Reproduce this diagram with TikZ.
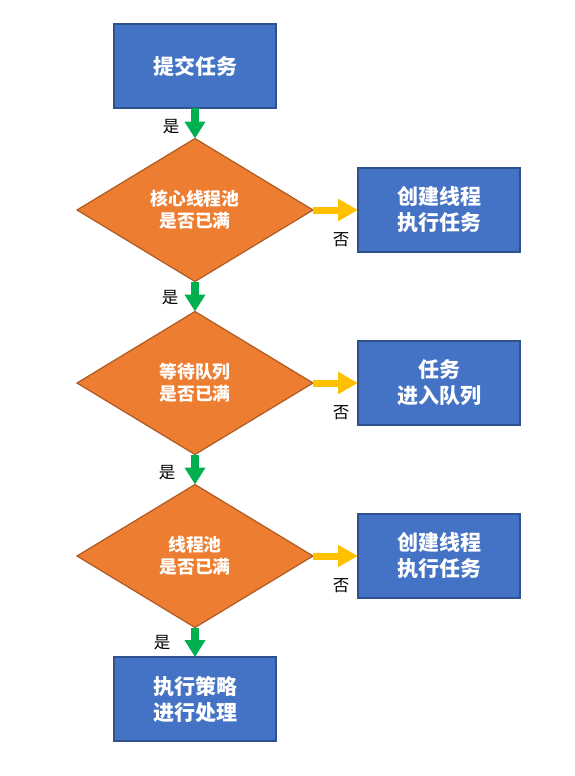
\documentclass[tikz,border=0pt]{standalone}
\usepackage{fontspec}
\setmainfont{Noto Sans CJK SC}
\usetikzlibrary{shapes.geometric,arrows.meta}
\definecolor{boxfill}{HTML}{4472C4}
\definecolor{boxline}{HTML}{2F528F}
\definecolor{dfill}{HTML}{ED7D31}
\definecolor{dline}{HTML}{AE5A21}
\definecolor{ygreen}{HTML}{00B050}
\definecolor{yellowarr}{HTML}{FFC000}
\tikzset{
  procbox/.style={draw=boxline, line width=1.5pt, fill=boxfill, minimum width=162pt, minimum height=84pt,
    inner sep=0pt, outer sep=0pt, text=white, font=\bfseries\fontsize{21pt}{26pt}\selectfont, align=center},
  decision/.style={diamond, draw=dline, line width=1.2pt, fill=dfill, minimum width=236pt, minimum height=143pt,
    aspect=1.65, inner sep=0pt, outer sep=0pt, text=white, font=\bfseries\fontsize{17.8pt}{22pt}\selectfont, align=center},
  yesarrow/.style={draw=ygreen, line width=7.5pt, -{Triangle[width=20pt,length=17pt]}},
  noarrow/.style={draw=yellowarr, line width=7pt, -{Triangle[width=21pt,length=20pt]}},
  lbl/.style={font=\fontsize{16.5pt}{16.5pt}\selectfont, text=black, inner sep=0pt}
}
\begin{document}
\begin{tikzpicture}[x=1pt,y=-1pt]
\useasboundingbox (0,0) rectangle (575,776);
\node[procbox] (start) at (195,66) {提交任务};
\node[decision] (d1) at (195,210) {核心线程池\\是否已满};
\node[decision] (d2) at (195,383) {等待队列\\是否已满};
\node[decision] (d3) at (195,556) {线程池\\是否已满};
\node[procbox] (r1) at (439,210) {创建线程\\执行任务};
\node[procbox] (r2) at (439,383) {任务\\进入队列};
\node[procbox] (r3) at (439,556) {创建线程\\执行任务};
\node[procbox] (end) at (195,699) {执行策略\\进行处理};

\draw[yesarrow] (start.south) -- (d1.north);
\draw[yesarrow] (d1.south) -- (d2.north);
\draw[yesarrow] (d2.south) -- (d3.north);
\draw[yesarrow] (d3.south) -- (end.north);
\draw[noarrow] (d1.east) -- (r1.west);
\draw[noarrow] (d2.east) -- (r2.west);
\draw[noarrow] (d3.east) -- (r3.west);

\node[lbl] (y1) at (171,127) {是};
\node[lbl] (y2) at (170,298) {是};
\node[lbl] (y3) at (167,473) {是};
\node[lbl] (y4) at (162,643) {是};
\node[lbl] (n1) at (341,240) {否};
\node[lbl] (n2) at (341,413) {否};
\node[lbl] (n3) at (341,586) {否};
\end{tikzpicture}
\end{document}
